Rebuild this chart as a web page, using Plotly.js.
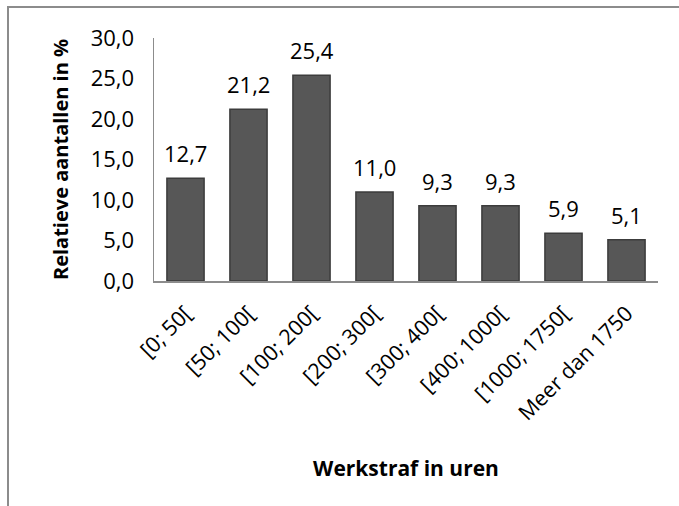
<!DOCTYPE html>
<html>
<head>
<meta charset="utf-8">
<script src="https://cdn.plot.ly/plotly-3.0.1.min.js"></script>
<style>
  html, body { margin: 0; padding: 0; background: #fff; }
  #wrap { position: relative; width: 679px; height: 506px; overflow: hidden; }
  #chart { width: 679px; height: 506px; }
  #frame { position: absolute; left: 7px; top: 6px; width: 700px; height: 520px;
           border-left: 2px solid #8c8c8c; border-top: 2px solid #8c8c8c; pointer-events: none; }
</style>
</head>
<body>
<div id="wrap">
  <div id="chart"></div>
  <div id="frame"></div>
</div>
<script>
const categories = ["[0; 50[", "[50; 100[", "[100; 200[", "[200; 300[", "[300; 400[", "[400; 1000[", "[1000; 1750[", "Meer dan 1750"];
const values = [12.7, 21.2, 25.4, 11.0, 9.3, 9.3, 5.9, 5.1];
const yTickValues = [0, 5, 10, 15, 20, 25, 30];
const xTitle = "Werkstraf in uren";
const yTitle = "Relatieve aantallen in %";

const FONT = "Open Sans";

const trace = {
  type: "bar",
  x: categories,
  y: values,
  marker: { color: "#575757", line: { color: "#3c3c3c", width: 1.5 } },
  hoverinfo: "skip"
};

const annotations = categories.map((c, i) => ({
  x: c, y: values[i], xref: "x", yref: "y",
  text: values[i].toFixed(1).replace(".", ","),
  showarrow: false, yanchor: "bottom", yshift: 8,
  font: { family: FONT, size: 22, color: "#000" }
}));

const layout = {
  width: 679, height: 506,
  margin: { l: 154, r: 21, t: 38, b: 225, pad: 0 },
  paper_bgcolor: "#fff", plot_bgcolor: "#fff",
  separators: ",.",
  bargap: 0.41,
  showlegend: false,
  font: { family: FONT, size: 22, color: "#000" },
  xaxis: {
    type: "category",
    tickangle: -45,
    showline: true, linecolor: "#8c8c8c", linewidth: 1.5,
    ticks: "", showgrid: false, zeroline: false,
    ticklabelstandoff: 10,
    tickfont: { family: FONT, size: 21.5, color: "#000" },
    title: { text: xTitle, font: { family: FONT, size: 21, color: "#000", weight: "bold" }, standoff: 36 }
  },
  yaxis: {
    range: [0, 30],
    tickvals: yTickValues,
    tickformat: ".1f",
    showline: true, linecolor: "#8c8c8c", linewidth: 1.5,
    ticks: "", showgrid: false, zeroline: false,
    ticklabelstandoff: 14,
    tickfont: { family: FONT, size: 22, color: "#000" },
    title: { text: yTitle, font: { family: FONT, size: 20, color: "#000", weight: "bold" }, standoff: 16 }
  },
  annotations: annotations
};

Plotly.newPlot("chart", [trace], layout, { displayModeBar: false, staticPlot: true });
</script>
</body>
</html>
